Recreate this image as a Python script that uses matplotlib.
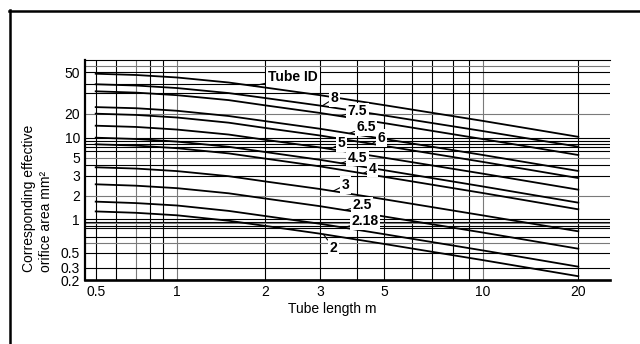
import numpy as np
import matplotlib
matplotlib.use("Agg")
import matplotlib.pyplot as plt
from matplotlib.ticker import FixedLocator, NullLocator, FixedFormatter
from matplotlib.lines import Line2D

plt.rcParams['font.family'] = ['Liberation Sans', 'DejaVu Sans']

# ---------------- data ----------------
tube_length = [0.5, 0.7, 1, 1.5, 2, 3, 5, 10, 20]

area_top = [48.6, 47.4, 45.1, 40.8, 35.5, 28.9, 23.7, 16.2, 10.2]
area_8 = [39.1, 37.7, 35.0, 30.2, 27.3, 23.5, 19.0, 12.05, 7.13]
area_7_5 = [31.8, 30.6, 28.9, 26.2, 23.6, 20.3, 15.2, 9.45, 5.36]
area_6_5 = [22.8, 22.3, 21.2, 18.7, 16.1, 12.9, 9.49, 5.36, 3.39]
area_6 = [20.0, 19.3, 17.9, 15.4, 13.2, 10.6, 7.35, 4.35, 2.86]
area_5 = [14.1, 13.6, 12.6, 10.9, 9.23, 6.93, 4.97, 3.16, 2.26]
area_4_5 = [9.93, 9.49, 8.62, 7.10, 5.83, 4.65, 3.46, 2.41, 1.63]
area_4 = [7.77, 7.42, 6.72, 5.61, 4.83, 3.82, 2.93, 2.11, 1.34]
area_3 = [3.73, 3.61, 3.38, 2.97, 2.67, 2.29, 1.80, 1.12, 0.781]
area_2_5 = [2.52, 2.45, 2.33, 2.10, 1.84, 1.47, 1.086, 0.761, 0.546]
area_2_18 = [1.68, 1.61, 1.50, 1.28, 1.10, 0.912, 0.736, 0.527, 0.311]
area_2 = [1.26, 1.21, 1.125, 0.971, 0.873, 0.744, 0.602, 0.390, 0.228]

series = [area_top, area_8, area_7_5, area_6_5, area_6, area_5,
          area_4_5, area_4, area_3, area_2_5, area_2_18, area_2]
curve_labels = ["Tube ID", "8", "7.5", "6.5", "6", "5", "4.5", "4", "3", "2.5", "2.18", "2"]
# tube length where each label's leader touches its curve
label_at_length = [1.82, 3.05, 3.50, 3.76, 4.51, 3.24, 3.53, 4.20, 3.32, 3.64, 3.61, 3.08]
# label offsets from the leader tip (points)
label_offsets = [(28.6, 6.1), (8.8, 5.5), (12.6, 3.5), (12.0, 4.5), (6.7, 4.3), (8.6, 4.1),
                 (11.9, 4.0), (7.0, 3.4), (9.1, 4.5), (12.2, 3.4), (15.1, 4.7), (7.0, -9.6)]

x_ticks = [0.5, 1, 2, 3, 5, 10, 20]
x_tick_labels = ["0.5", "1", "2", "3", "5", "10", "20"]
y_ticks = [0.2, 0.3, 0.5, 1, 2, 3, 5, 10, 20, 50]
y_tick_labels = ["0.2", "0.3", "0.5", "1", "2", "3", "5", "10", "20", "50"]

x_grid = [0.5, 0.6, 0.7, 0.8, 0.9, 1, 2, 3, 4, 5, 6, 7, 8, 9, 10, 20]
x_grid_gray = [0.7, 1, 10]
y_grid = [60, 50, 40, 30, 20, 10, 9, 8, 7, 6, 5, 4, 3, 2, 1,
          0.95, 0.92, 0.88, 0.84, 0.70, 0.62, 0.5, 0.3]
y_grid_gray = [60, 20, 5, 2, 0.92, 0.62]

# ---------------- axis calibration of the printed (non-uniform) log grid ----------------
W, H = 640, 344
X_CAL_VALUES = [0.454, 0.5, 0.6, 0.7, 0.8, 0.9, 1, 2, 3, 4, 5, 6, 7, 8, 9, 10, 20, 25.2]
X_CAL_PIX = [85, 95.7, 115.7, 136, 149.7, 163.3, 177, 265.3, 320, 357.3, 384.3,
             412.3, 432.3, 452.7, 469.3, 483, 578.3, 610]
Y_CAL_VALUES = [0.2, 0.3, 0.5, 1, 2, 3, 4, 5, 6, 7, 8, 9, 10, 20, 30, 40, 50, 60, 70]
Y_CAL_PIX = [280.3, 267.7, 253, 219.3, 195.7, 175.7, 164.6, 157.5, 151, 147.2,
             143.5, 140.5, 137.5, 113.7, 93.3, 83.5, 72.3, 66.3, 59.7]


def make_scale(values, pos):
    lv = np.log10(np.asarray(values, float))
    p = np.asarray(pos, float)
    sl = (p[1] - p[0]) / (lv[1] - lv[0])
    sr = (p[-1] - p[-2]) / (lv[-1] - lv[-2])
    lv = np.concatenate([[lv[0] - 20], lv, [lv[-1] + 20]])
    p = np.concatenate([[p[0] - 20 * sl], p, [p[-1] + 20 * sr]])

    def forward(v):
        v = np.asarray(v, float)
        with np.errstate(divide='ignore', invalid='ignore'):
            l = np.log10(np.where(v > 0, v, np.nan))
        return np.interp(l, lv, p)

    def inverse(q):
        q = np.asarray(q, float)
        return 10 ** np.interp(q, p, lv)
    return forward, inverse


fx, ix = make_scale(X_CAL_VALUES, X_CAL_PIX)
fy, iy = make_scale(Y_CAL_VALUES, [H - v for v in Y_CAL_PIX])

fig = plt.figure(figsize=(6.4, 3.44), dpi=100)
x0, x1 = X_CAL_PIX[0], X_CAL_PIX[-1]
yb, yt = Y_CAL_PIX[0], Y_CAL_PIX[-1]
ax = fig.add_axes([x0 / W, (H - yb) / H, (x1 - x0) / W, (yb - yt) / H])
ax.set_xscale('function', functions=(fx, ix))
ax.set_yscale('function', functions=(fy, iy))
ax.set_xlim(X_CAL_VALUES[0], X_CAL_VALUES[-1])
ax.set_ylim(Y_CAL_VALUES[0], Y_CAL_VALUES[-1])

for v in x_grid:
    ax.axvline(v, color='#7a7a7a' if v in x_grid_gray else 'black', lw=0.8, zorder=1)
for v in y_grid:
    ax.axhline(v, color='#7a7a7a' if v in y_grid_gray else 'black', lw=0.8, zorder=1)

for ys in series:
    ax.plot(tube_length, ys, color='black', lw=1.3, zorder=3, solid_joinstyle='round')

for lab, tx, (dx, dy), ys in zip(curve_labels, label_at_length, label_offsets, series):
    q = np.interp(fx(tx), fx(tube_length), fy(ys))
    ty = float(iy(q))
    ax.annotate(lab, xy=(tx, ty), xytext=(dx, dy), textcoords='offset points',
                ha='center', va='center', fontsize=10, fontweight='bold', zorder=6,
                bbox=dict(boxstyle='square,pad=0.12', fc='white', ec='none'),
                arrowprops=dict(arrowstyle='-', lw=0.8, color='black',
                                shrinkA=0, shrinkB=0))

ax.xaxis.set_major_locator(FixedLocator(x_ticks))
ax.xaxis.set_major_formatter(FixedFormatter(x_tick_labels))
ax.yaxis.set_major_locator(FixedLocator(y_ticks))
ax.yaxis.set_major_formatter(FixedFormatter(y_tick_labels))
ax.xaxis.set_minor_locator(NullLocator())
ax.yaxis.set_minor_locator(NullLocator())
ax.tick_params(axis='x', length=0, pad=3.5, labelsize=10)
ax.tick_params(axis='y', length=0, pad=3.6, labelsize=10)

ax.spines['right'].set_visible(False)
ax.spines['top'].set_linewidth(0.8)
ax.spines['left'].set_linewidth(1.6)
ax.spines['bottom'].set_linewidth(1.9)
for s in ax.spines.values():
    s.set_zorder(4)

fig.text(332 / W, 1 - 309 / H, "Tube length m", ha='center', va='center', fontsize=10)
fig.text(37.5 / W, 1 - 272 / H, "Corresponding effective\norifice area mm²",
         rotation=90, ha='center', va='bottom', multialignment='left',
         fontsize=10, linespacing=1.25)

# outer frame
fig.add_artist(Line2D([9.2 / W, 1], [1 - 10.5 / H, 1 - 10.5 / H], color='black', lw=1.8,
                      transform=fig.transFigure))
fig.add_artist(Line2D([10.3 / W, 10.3 / W], [0, 1 - 9.5 / H], color='black', lw=1.8,
                      transform=fig.transFigure))

fig.savefig("out.png", dpi=100)
